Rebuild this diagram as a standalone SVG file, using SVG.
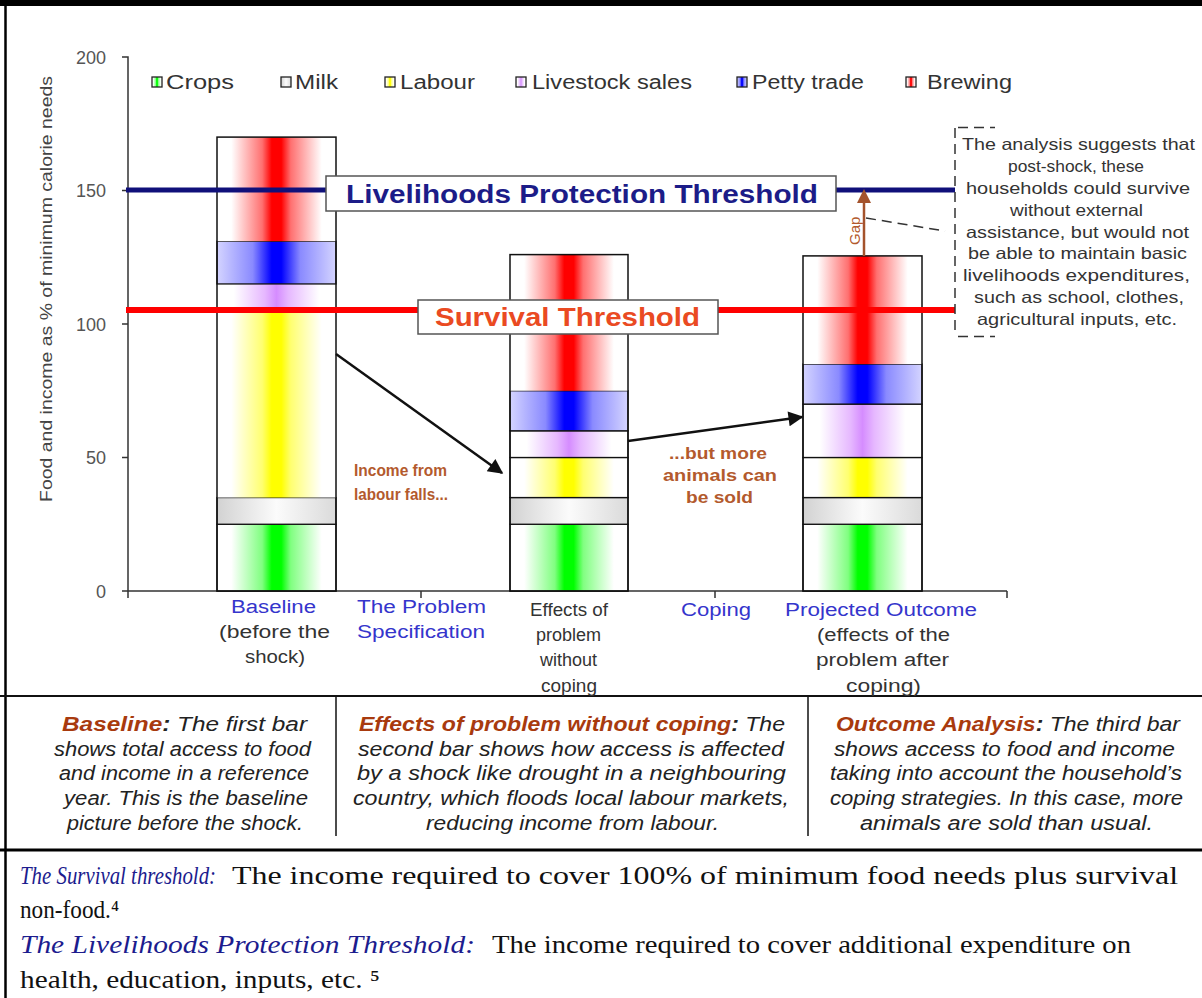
<svg xmlns="http://www.w3.org/2000/svg" width="1202" height="998" viewBox="0 0 1202 998">
<style>
.sans{font-family:"Liberation Sans",Arial,sans-serif}
.serif{font-family:"Liberation Serif","Times New Roman","DejaVu Serif",serif}
.tick{font-size:18px;fill:#555}
.leg{font-size:20px;fill:#333}
.catb{font-size:18px;fill:#3535cc}
.catg{font-size:18px;fill:#333}
.ann{font-size:16px;font-weight:bold;fill:#b35a2d}
.box{font-size:16.5px;fill:#333}
.col{font-size:20px;font-style:italic;fill:#222}
.hd{font-weight:bold;fill:#a83a0e}
.seg{stroke:#111;stroke-width:1.3}
.bar{fill:none;stroke:#111;stroke-width:1.5}
.ax{stroke:#333;stroke-width:1.5;fill:none}
.dash{stroke:#333;stroke-width:1.5;stroke-dasharray:10 6;fill:none}
.lbl{fill:#fff;stroke:#555;stroke-width:1.5}
.blu{font-size:25px;font-style:italic;fill:#1c1c8e}
.body{font-size:25px;fill:#111}
</style>
<defs>
<linearGradient id="gRed" x1="0" x2="1" y1="0" y2="0"><stop offset="0" stop-color="#fff"/><stop offset="0.12" stop-color="#fff"/><stop offset="0.38" stop-color="#ff7070"/><stop offset="0.46" stop-color="#f00"/><stop offset="0.54" stop-color="#f00"/><stop offset="0.62" stop-color="#ff7070"/><stop offset="0.88" stop-color="#fff"/><stop offset="1" stop-color="#fff"/></linearGradient>
<linearGradient id="gGreen" x1="0" x2="1" y1="0" y2="0"><stop offset="0" stop-color="#fff"/><stop offset="0.12" stop-color="#fff"/><stop offset="0.38" stop-color="#80ff80"/><stop offset="0.46" stop-color="#0f0"/><stop offset="0.54" stop-color="#0f0"/><stop offset="0.62" stop-color="#80ff80"/><stop offset="0.88" stop-color="#fff"/><stop offset="1" stop-color="#fff"/></linearGradient>
<linearGradient id="gYellow" x1="0" x2="1" y1="0" y2="0"><stop offset="0" stop-color="#fff"/><stop offset="0.12" stop-color="#fff"/><stop offset="0.38" stop-color="#ffff70"/><stop offset="0.46" stop-color="#ff0"/><stop offset="0.54" stop-color="#ff0"/><stop offset="0.62" stop-color="#ffff70"/><stop offset="0.88" stop-color="#fff"/><stop offset="1" stop-color="#fff"/></linearGradient>
<linearGradient id="gPurple" x1="0" x2="1" y1="0" y2="0"><stop offset="0" stop-color="#fff"/><stop offset="0.14" stop-color="#fff"/><stop offset="0.4" stop-color="#e6b8ff"/><stop offset="0.5" stop-color="#d58cff"/><stop offset="0.6" stop-color="#e6b8ff"/><stop offset="0.86" stop-color="#fff"/><stop offset="1" stop-color="#fff"/></linearGradient>
<linearGradient id="gBlue" x1="0" x2="1" y1="0" y2="0"><stop offset="0" stop-color="#d4d4ff"/><stop offset="0.3" stop-color="#8a8aff"/><stop offset="0.46" stop-color="#00f"/><stop offset="0.54" stop-color="#00f"/><stop offset="0.7" stop-color="#8a8aff"/><stop offset="1" stop-color="#d4d4ff"/></linearGradient>
<linearGradient id="gMilk" x1="0" x2="1" y1="0" y2="0"><stop offset="0" stop-color="#d2d2d2"/><stop offset="0.5" stop-color="#fbfbfb"/><stop offset="1" stop-color="#dadada"/></linearGradient>
<marker id="ah" viewBox="0 0 10 10" refX="9" refY="5" markerWidth="7" markerHeight="6" orient="auto"><path d="M0,0 L10,5 L0,10 z" fill="#111"/></marker>
</defs>
<rect width="1202" height="998" fill="#fff"/>
<g id="frame">
<rect x="0" y="0" width="1202" height="6" fill="#000"/>
<line x1="5.5" y1="0" x2="5.5" y2="998" stroke="#000" stroke-width="2.5"/>
<line x1="0" y1="696" x2="1202" y2="696" stroke="#111" stroke-width="2"/>
<line x1="336" y1="697" x2="336" y2="836" stroke="#111" stroke-width="1.5"/>
<line x1="808" y1="697" x2="808" y2="836" stroke="#111" stroke-width="1.5"/>
<line x1="0" y1="850" x2="1202" y2="850" stroke="#000" stroke-width="3"/>
</g>
<g id="axes">
<path class="ax" d="M122,57 H128 V591 H1007 M122,190.5 H128 M122,324 H128 M122,457.5 H128 M122,591 H128 M128,591 V598 M421,591 V598 M715,591 V598 M1007,591 V598"/>
<g class="sans tick" text-anchor="end">
<text x="106" y="64">200</text><text x="106" y="197">150</text><text x="106" y="331">100</text><text x="106" y="464">50</text><text x="106" y="598">0</text>
</g>
<text class="sans" font-size="17" fill="#444" transform="translate(52,502) rotate(-90)" textLength="426" lengthAdjust="spacingAndGlyphs">Food and income as % of minimum calorie needs</text>
</g>
<g id="legend" class="sans leg">
<rect x="152" y="77" width="10" height="10" fill="url(#gGreen)" stroke="#222" stroke-width="1.3"/><text x="166" y="89" textLength="68" lengthAdjust="spacingAndGlyphs">Crops</text>
<rect x="281" y="77" width="10" height="10" fill="url(#gMilk)" stroke="#222" stroke-width="1.3"/><text x="295" y="89" textLength="43" lengthAdjust="spacingAndGlyphs">Milk</text>
<rect x="385" y="77" width="10" height="10" fill="url(#gYellow)" stroke="#222" stroke-width="1.3"/><text x="400" y="89" textLength="75" lengthAdjust="spacingAndGlyphs">Labour</text>
<rect x="516" y="77" width="10" height="10" fill="url(#gPurple)" stroke="#222" stroke-width="1.3"/><text x="532" y="89" textLength="160" lengthAdjust="spacingAndGlyphs">Livestock sales</text>
<rect x="737" y="77" width="10" height="10" fill="url(#gBlue)" stroke="#222" stroke-width="1.3"/><text x="752" y="89" textLength="112" lengthAdjust="spacingAndGlyphs">Petty trade</text>
<rect x="906" y="77" width="10" height="10" fill="url(#gRed)" stroke="#222" stroke-width="1.3"/><text x="927" y="89" textLength="85" lengthAdjust="spacingAndGlyphs">Brewing</text>
</g>
<g id="bar-baseline">
<rect class="seg" x="217" y="524.25" width="119" height="66.75" fill="url(#gGreen)"/>
<rect class="seg" x="217" y="497.55" width="119" height="26.7" fill="url(#gMilk)"/>
<rect x="217" y="310.65" width="119" height="186.9" fill="url(#gYellow)"/>
<rect x="217" y="283.95" width="119" height="26.7" fill="url(#gPurple)"/>
<rect class="seg" x="217" y="241.2" width="119" height="42.75" fill="url(#gBlue)"/>
<rect x="217" y="137.1" width="119" height="104.1" fill="url(#gRed)"/>
<rect class="bar" x="217" y="137.1" width="119" height="453.9"/>
</g>
<g id="bar-effects">
<rect class="seg" x="510" y="524.25" width="118" height="66.75" fill="url(#gGreen)"/>
<rect class="seg" x="510" y="497.55" width="118" height="26.7" fill="url(#gMilk)"/>
<rect class="seg" x="510" y="457.5" width="118" height="40.05" fill="url(#gYellow)"/>
<rect class="seg" x="510" y="430.8" width="118" height="26.7" fill="url(#gPurple)"/>
<rect class="seg" x="510" y="390.75" width="118" height="40.05" fill="url(#gBlue)"/>
<rect x="510" y="254.6" width="118" height="136.15" fill="url(#gRed)"/>
<rect class="bar" x="510" y="254.6" width="118" height="336.4"/>
</g>
<g id="bar-outcome">
<rect class="seg" x="803" y="524.25" width="119" height="66.75" fill="url(#gGreen)"/>
<rect class="seg" x="803" y="497.55" width="119" height="26.7" fill="url(#gMilk)"/>
<rect class="seg" x="803" y="457.5" width="119" height="40.05" fill="url(#gYellow)"/>
<rect class="seg" x="803" y="404.1" width="119" height="53.4" fill="url(#gPurple)"/>
<rect class="seg" x="803" y="364.05" width="119" height="40.05" fill="url(#gBlue)"/>
<rect x="803" y="255.9" width="119" height="108.15" fill="url(#gRed)"/>
<rect class="bar" x="803" y="255.9" width="119" height="335.1"/>
</g>
<g id="thresholds">
<line x1="126" y1="190" x2="955" y2="190" stroke="#10107a" stroke-width="5"/>
<line x1="126" y1="310" x2="955" y2="310" stroke="#f00" stroke-width="6"/>
</g>
<g id="label-lpt">
<rect class="lbl" x="326" y="176" width="510" height="35"/>
<text class="sans" x="346" y="203" font-size="25" font-weight="bold" fill="#1c1c88" textLength="472" lengthAdjust="spacingAndGlyphs">Livelihoods Protection Threshold</text>
</g>
<g id="label-survival">
<rect class="lbl" x="418" y="300" width="300" height="34"/>
<text class="sans" x="435" y="326" font-size="25" font-weight="bold" fill="#ea4a22" textLength="265" lengthAdjust="spacingAndGlyphs">Survival Threshold</text>
</g>
<g id="connectors">
<line x1="336" y1="354" x2="502" y2="473" stroke="#111" stroke-width="2.5" marker-end="url(#ah)"/>
<line x1="628" y1="441" x2="802" y2="417" stroke="#111" stroke-width="2.5" marker-end="url(#ah)"/>
<line x1="864" y1="256" x2="864" y2="202" stroke="#a4532c" stroke-width="2.5"/>
<path d="M864,189 L871,203 L857,203 z" fill="#a4532c"/>
<line x1="866" y1="218" x2="945" y2="231" class="dash"/>
</g>
<g id="gap-label">
<text class="sans" font-size="15" fill="#b35a2d" transform="translate(860,245) rotate(-90)">Gap</text>
</g>
<g id="annotations" class="sans ann">
<text x="354" y="476" textLength="93" lengthAdjust="spacingAndGlyphs">Income from</text>
<text x="354" y="500" textLength="94" lengthAdjust="spacingAndGlyphs">labour falls...</text>
<text x="669" y="459" textLength="98" lengthAdjust="spacingAndGlyphs">...but more</text>
<text x="663" y="481" textLength="114" lengthAdjust="spacingAndGlyphs">animals can</text>
<text x="686" y="503" textLength="67" lengthAdjust="spacingAndGlyphs">be sold</text>
</g>
<g id="analysis-box">
<path class="dash" d="M955,128 V336 M958,127.5 H995 M958,336.5 H995"/>
<g class="sans box">
<text x="962" y="150" textLength="233" lengthAdjust="spacingAndGlyphs">The analysis suggests that</text>
<text x="1008" y="172" textLength="136" lengthAdjust="spacingAndGlyphs">post-shock, these</text>
<text x="966" y="194" textLength="224" lengthAdjust="spacingAndGlyphs">households could survive</text>
<text x="1010" y="216" textLength="133" lengthAdjust="spacingAndGlyphs">without external</text>
<text x="966" y="238" textLength="223" lengthAdjust="spacingAndGlyphs">assistance, but would not</text>
<text x="968" y="259" textLength="219" lengthAdjust="spacingAndGlyphs">be able to maintain basic</text>
<text x="963" y="281" textLength="227" lengthAdjust="spacingAndGlyphs">livelihoods expenditures,</text>
<text x="974" y="303" textLength="210" lengthAdjust="spacingAndGlyphs">such as school, clothes,</text>
<text x="977" y="325" textLength="200" lengthAdjust="spacingAndGlyphs">agricultural inputs, etc.</text>
</g>
</g>
<g id="categories" class="sans">
<text class="catb" x="231" y="613" textLength="85" lengthAdjust="spacingAndGlyphs">Baseline</text>
<text class="catg" x="219" y="638" textLength="111" lengthAdjust="spacingAndGlyphs">(before the</text>
<text class="catg" x="245" y="663" textLength="60" lengthAdjust="spacingAndGlyphs">shock)</text>
<text class="catb" x="357" y="613" textLength="129" lengthAdjust="spacingAndGlyphs">The Problem</text>
<text class="catb" x="357" y="638" textLength="128" lengthAdjust="spacingAndGlyphs">Specification</text>
<text class="catg" x="530" y="616" textLength="78" lengthAdjust="spacingAndGlyphs">Effects of</text>
<text class="catg" x="536" y="641" textLength="65" lengthAdjust="spacingAndGlyphs">problem</text>
<text class="catg" x="540" y="666" textLength="57" lengthAdjust="spacingAndGlyphs">without</text>
<text class="catg" x="541" y="692" textLength="56" lengthAdjust="spacingAndGlyphs">coping</text>
<text class="catb" x="681" y="616" textLength="70" lengthAdjust="spacingAndGlyphs">Coping</text>
<text class="catb" x="785" y="616" textLength="192" lengthAdjust="spacingAndGlyphs">Projected Outcome</text>
<text class="catg" x="817" y="641" textLength="133" lengthAdjust="spacingAndGlyphs">(effects of the</text>
<text class="catg" x="816" y="666" textLength="133" lengthAdjust="spacingAndGlyphs">problem after</text>
<text class="catg" x="846" y="692" textLength="75" lengthAdjust="spacingAndGlyphs">coping)</text>
</g>
<g id="panel-baseline" class="sans col">
<text x="62" y="731" textLength="245" lengthAdjust="spacingAndGlyphs"><tspan class="hd">Baseline</tspan><tspan font-weight="bold">:</tspan> The first bar</text>
<text x="54" y="756" textLength="257" lengthAdjust="spacingAndGlyphs">shows total access to food</text>
<text x="59" y="780" textLength="250" lengthAdjust="spacingAndGlyphs">and income in a reference</text>
<text x="64" y="805" textLength="244" lengthAdjust="spacingAndGlyphs">year. This is the baseline</text>
<text x="67" y="830" textLength="236" lengthAdjust="spacingAndGlyphs">picture before the shock.</text>
</g>
<g id="panel-effects" class="sans col">
<text x="359" y="731" textLength="426" lengthAdjust="spacingAndGlyphs"><tspan class="hd">Effects of problem without coping</tspan><tspan font-weight="bold">:</tspan> The</text>
<text x="358" y="756" textLength="426" lengthAdjust="spacingAndGlyphs">second bar shows how access is affected</text>
<text x="357" y="780" textLength="429" lengthAdjust="spacingAndGlyphs">by a shock like drought in a neighbouring</text>
<text x="353" y="805" textLength="436" lengthAdjust="spacingAndGlyphs">country, which floods local labour markets,</text>
<text x="426" y="830" textLength="293" lengthAdjust="spacingAndGlyphs">reducing income from labour.</text>
</g>
<g id="panel-outcome" class="sans col">
<text x="836" y="731" textLength="344" lengthAdjust="spacingAndGlyphs"><tspan class="hd">Outcome Analysis</tspan><tspan font-weight="bold">:</tspan> The third bar</text>
<text x="834" y="756" textLength="341" lengthAdjust="spacingAndGlyphs">shows access to food and income</text>
<text x="830" y="780" textLength="352" lengthAdjust="spacingAndGlyphs">taking into account the household’s</text>
<text x="830" y="805" textLength="353" lengthAdjust="spacingAndGlyphs">coping strategies. In this case, more</text>
<text x="860" y="830" textLength="293" lengthAdjust="spacingAndGlyphs">animals are sold than usual.</text>
</g>
<g id="definitions" class="serif">
<text class="blu" x="20" y="884" font-size="22" textLength="196" lengthAdjust="spacingAndGlyphs">The Survival threshold:</text>
<text class="body" x="232" y="884" textLength="946" lengthAdjust="spacingAndGlyphs">The income required to cover 100% of minimum food needs plus survival</text>
<text class="body" x="20" y="918" font-size="23" textLength="99" lengthAdjust="spacingAndGlyphs">non-food.⁴</text>
<text class="blu" x="20" y="953" textLength="455" lengthAdjust="spacingAndGlyphs">The Livelihoods Protection Threshold:</text>
<text class="body" x="492" y="953" textLength="639" lengthAdjust="spacingAndGlyphs">The income required to cover additional expenditure on</text>
<text class="body" x="20" y="988" textLength="360" lengthAdjust="spacingAndGlyphs">health, education, inputs, etc. ⁵</text>
</g>
</svg>
